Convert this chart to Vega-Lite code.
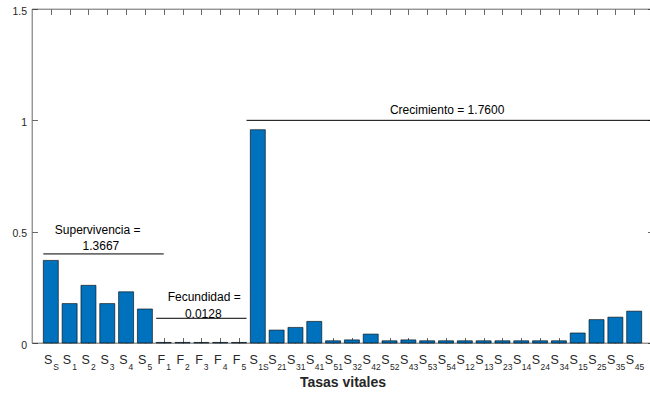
{
  "$schema": "https://vega.github.io/schema/vega-lite/v6.json",
  "width": 621,
  "height": 334,
  "autosize": {"type": "none"},
  "padding": {"left": 32, "top": 9, "right": 0, "bottom": 51},
  "background": "white",
  "config": {
    "font": "Liberation Sans",
    "view": {"stroke": "#262626", "strokeWidth": 0.7},
    "scale": {"continuousPadding": 0},
    "axis": {
      "grid": false,
      "domain": false,
      "tickColor": "#262626",
      "tickWidth": 0.7,
      "tickSize": -5.5,
      "labelColor": "#262626",
      "labelFont": "Liberation Sans",
      "labelOverlap": false,
      "labelFlush": false,
      "labelBound": false
    }
  },
  "datasets": {
    "tasas": [
      {"i": 1, "letra": "S", "sub": "S", "valor": 0.371},
      {"i": 2, "letra": "S", "sub": "1", "valor": 0.177},
      {"i": 3, "letra": "S", "sub": "2", "valor": 0.259},
      {"i": 4, "letra": "S", "sub": "3", "valor": 0.177},
      {"i": 5, "letra": "S", "sub": "4", "valor": 0.230},
      {"i": 6, "letra": "S", "sub": "5", "valor": 0.1527},
      {"i": 7, "letra": "F", "sub": "1", "valor": 0.0026},
      {"i": 8, "letra": "F", "sub": "2", "valor": 0.0026},
      {"i": 9, "letra": "F", "sub": "3", "valor": 0.0025},
      {"i": 10, "letra": "F", "sub": "4", "valor": 0.0026},
      {"i": 11, "letra": "F", "sub": "5", "valor": 0.0025},
      {"i": 12, "letra": "S", "sub": "1S", "valor": 0.958},
      {"i": 13, "letra": "S", "sub": "21", "valor": 0.058},
      {"i": 14, "letra": "S", "sub": "31", "valor": 0.070},
      {"i": 15, "letra": "S", "sub": "41", "valor": 0.097},
      {"i": 16, "letra": "S", "sub": "51", "valor": 0.010},
      {"i": 17, "letra": "S", "sub": "32", "valor": 0.014},
      {"i": 18, "letra": "S", "sub": "42", "valor": 0.040},
      {"i": 19, "letra": "S", "sub": "52", "valor": 0.010},
      {"i": 20, "letra": "S", "sub": "43", "valor": 0.014},
      {"i": 21, "letra": "S", "sub": "53", "valor": 0.010},
      {"i": 22, "letra": "S", "sub": "54", "valor": 0.010},
      {"i": 23, "letra": "S", "sub": "12", "valor": 0.010},
      {"i": 24, "letra": "S", "sub": "13", "valor": 0.010},
      {"i": 25, "letra": "S", "sub": "23", "valor": 0.010},
      {"i": 26, "letra": "S", "sub": "14", "valor": 0.010},
      {"i": 27, "letra": "S", "sub": "24", "valor": 0.010},
      {"i": 28, "letra": "S", "sub": "34", "valor": 0.010},
      {"i": 29, "letra": "S", "sub": "15", "valor": 0.045},
      {"i": 30, "letra": "S", "sub": "25", "valor": 0.105},
      {"i": 31, "letra": "S", "sub": "35", "valor": 0.116},
      {"i": 32, "letra": "S", "sub": "45", "valor": 0.143}
    ],
    "grupos": [
      {"grupo": "Supervivencia", "desde": 0.6, "hasta": 7.0, "nivel": 0.40},
      {"grupo": "Fecundidad", "desde": 6.6, "hasta": 11.4, "nivel": 0.111},
      {"grupo": "Crecimiento", "desde": 11.4, "hasta": 32.85, "nivel": 1.0}
    ],
    "rotulos": [
      {"texto": "Supervivencia =", "x": 3.49, "y": 0.4895},
      {"texto": "1.3667", "x": 3.66, "y": 0.4177},
      {"texto": "Fecundidad =", "x": 9.15, "y": 0.187},
      {"texto": "0.0128", "x": 9.1, "y": 0.1145},
      {"texto": "Crecimiento = 1.7600", "x": 22.06, "y": 1.028}
    ]
  },
  "layer": [
    {
      "data": {"name": "tasas"},
      "mark": {"type": "bar", "size": 15, "fill": "#0072BD", "stroke": "#000000", "strokeWidth": 0.6},
      "encoding": {
        "x": {
          "field": "i",
          "type": "quantitative",
          "scale": {"domain": [0, 33], "nice": false, "zero": false, "padding": 0},
          "axis": {
            "orient": "bottom",
            "values": [1,2,3,4,5,6,7,8,9,10,11,12,13,14,15,16,17,18,19,20,21,22,23,24,25,26,27,28,29,30,31,32],
            "labelExpr": "datum.value >= 7 && datum.value <= 11 ? 'F' : 'S'",
            "labelAlign": "right",
            "labelBaseline": "alphabetic",
            "labelFontSize": 12.5,
            "labelPadding": 26,
            "labelOffset": {"condition": {"test": "datum.value >= 12", "value": -0.5}, "value": 1},
            "title": "Tasas vitales",
            "titleFontSize": 14,
            "titleFontWeight": "bold",
            "titleColor": "#262626",
            "titleBaseline": "alphabetic",
            "titleY": 43.5
          }
        },
        "y": {
          "field": "valor",
          "type": "quantitative",
          "scale": {"domain": [0, 1.5], "nice": false, "padding": 0},
          "axis": {
            "orient": "left",
            "values": [0, 0.5, 1, 1.5],
            "format": "~g",
            "labelFontSize": 10.5,
            "labelPadding": 11,
            "labelBaseline": "middle",
            "labelOffset": 2,
            "title": null
          }
        }
      }
    },
    {
      "data": {"name": "tasas"},
      "mark": {"type": "point", "opacity": 0},
      "encoding": {
        "x": {
          "field": "i",
          "type": "quantitative",
          "scale": {"domain": [0, 33], "nice": false, "zero": false, "padding": 0},
          "axis": {
            "orient": "bottom",
            "values": [1,2,3,4,5,6,7,8,9,10,11,12,13,14,15,16,17,18,19,20,21,22,23,24,25,26,27,28,29,30,31,32],
            "ticks": false,
            "labelExpr": "['S','1','2','3','4','5','1','2','3','4','5','1S','21','31','41','51','32','42','52','43','53','54','12','13','23','14','24','34','15','25','35','45'][datum.value - 1]",
            "labelAlign": "left",
            "labelBaseline": "alphabetic",
            "labelFontSize": 8.5,
            "labelPadding": 26,
            "labelOffset": {"condition": {"test": "datum.value >= 12", "value": 0}, "value": 2},
            "title": null
          }
        },
        "y": {
          "field": "valor",
          "type": "quantitative",
          "scale": {"domain": [0, 1.5], "nice": false, "padding": 0},
          "axis": {"orient": "right", "values": [0, 0.5, 1, 1.5], "labels": false, "title": null}
        }
      }
    },
    {
      "data": {"name": "tasas"},
      "mark": {"type": "point", "opacity": 0},
      "encoding": {
        "x": {
          "field": "i",
          "type": "quantitative",
          "scale": {"domain": [0, 33], "nice": false, "zero": false, "padding": 0},
          "axis": {
            "orient": "top",
            "values": [1,2,3,4,5,6,7,8,9,10,11,12,13,14,15,16,17,18,19,20,21,22,23,24,25,26,27,28,29,30,31,32],
            "labels": false,
            "title": null
          }
        },
        "y": {"field": "valor", "type": "quantitative", "scale": {"domain": [0, 1.5], "nice": false, "padding": 0}, "axis": null}
      }
    },
    {
      "data": {"name": "grupos"},
      "mark": {"type": "rule", "color": "#000000", "strokeWidth": 1},
      "encoding": {
        "x": {"field": "desde", "type": "quantitative", "scale": {"domain": [0, 33], "nice": false, "zero": false, "padding": 0}, "axis": null},
        "x2": {"field": "hasta"},
        "y": {"field": "nivel", "type": "quantitative", "scale": {"domain": [0, 1.5], "nice": false, "padding": 0}, "axis": null}
      }
    },
    {
      "data": {"name": "rotulos"},
      "mark": {"type": "text", "font": "Liberation Sans", "fontSize": 12, "color": "#000000", "align": "center", "baseline": "alphabetic"},
      "encoding": {
        "x": {"field": "x", "type": "quantitative", "scale": {"domain": [0, 33], "nice": false, "zero": false, "padding": 0}, "axis": null},
        "y": {"field": "y", "type": "quantitative", "scale": {"domain": [0, 1.5], "nice": false, "padding": 0}, "axis": null},
        "text": {"field": "texto"}
      }
    }
  ],
  "resolve": {"axis": {"x": "independent", "y": "independent"}}
}
